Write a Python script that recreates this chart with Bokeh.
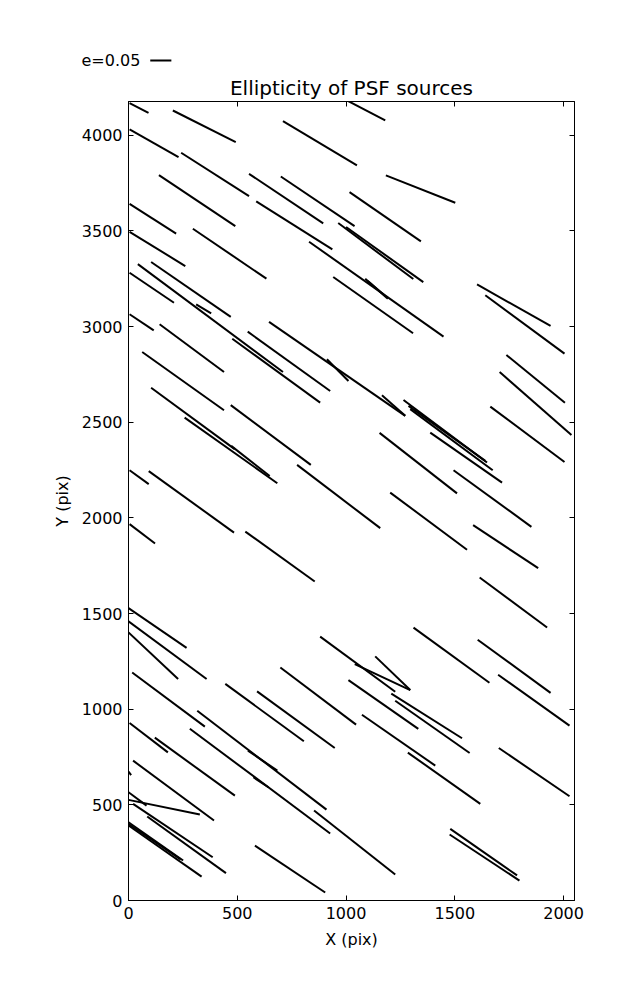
from bokeh.plotting import figure
from bokeh.models import Range1d, FixedTicker, LinearAxis
from bokeh.layouts import column
from bokeh.core.properties import value
from bokeh.embed import file_html
from bokeh.resources import INLINE

# Whisker segments (X, Y in pix)
x_start = [5, 204, 710, 1010, 5, 242, 1183, 140, 554, 700,
           1016, 587, 5, 296, 5, 964, 1000, 830, 1088, 1100,
           941, 1602, 1640, 1737, 1706, 1663, 5, 43, 104, 311,
           5, 143, 477, 548, 646, 912, 1165, 63, 1264, 1287,
           1295, 1387, 1154, 1494, 1203, 1584, 1614, 104, 258, 472,
           470, 5, 93, 775, 5, 537, 0, 0, 0, 17,
           445, 591, 698, 881, 1040, 1134, 1011, 1073, 1208, 1226,
           1284, 1310, 1605, 1699, 1702, 5, 316, 549, 121, 282,
           574, 0, 0, 0, 21, 21, 86, 0, 0, 0,
           581, 853, 1479, 1476]
y_start = [4168, 4129, 4073, 4178, 4030, 3908, 3790, 3791, 3798, 3784,
           3702, 3654, 3641, 3511, 3495, 3541, 3520, 3443, 3250, 3238,
           3259, 3220, 3163, 2851, 2762, 2581, 3281, 3326, 3337, 3116,
           3064, 3012, 2936, 2973, 3024, 2829, 2641, 2867, 2616, 2585,
           2568, 2445, 2444, 2249, 2132, 1962, 1688, 2680, 2524, 2376,
           2589, 2249, 2244, 2277, 1967, 1928, 1528, 1459, 1401, 1192,
           1132, 1093, 1218, 1379, 1235, 1276, 1152, 971, 1081, 1044,
           773, 1426, 1363, 1180, 797, 928, 992, 783, 851, 898,
           644, 674, 566, 526, 731, 505, 439, 409, 392, 400,
           287, 470, 374, 345]
x_end = [92, 493, 1050, 1180, 230, 554, 1502, 491, 895, 1039,
         1344, 937, 219, 634, 261, 1309, 1355, 1448, 1192, 1182,
         1308, 1940, 2004, 2006, 2036, 2004, 209, 710, 470, 380,
         116, 439, 881, 927, 1272, 1011, 1272, 439, 1648, 1640,
         1674, 1717, 1510, 1852, 1556, 1883, 1924, 488, 684, 649,
         838, 93, 485, 1157, 122, 856, 267, 359, 228, 351,
         806, 948, 1046, 1226, 1295, 1295, 1332, 1410, 1533, 1568,
         1617, 1659, 1940, 2027, 2027, 181, 910, 684, 489, 927,
         643, 12, 83, 328, 393, 387, 448, 251, 336, 240,
         904, 1226, 1786, 1797]
y_end = [4117, 3964, 3842, 4077, 3885, 3681, 3647, 3525, 3539, 3525,
         3445, 3403, 3485, 3250, 3316, 3248, 3232, 2947, 3145, 3158,
         2965, 3003, 2858, 2602, 2433, 2292, 3124, 2762, 3050, 3069,
         2980, 2762, 2602, 2663, 2533, 2715, 2533, 2562, 2289, 2298,
         2249, 2184, 2128, 1953, 1833, 1737, 1427, 2359, 2181, 2219,
         2277, 2176, 1923, 1946, 1866, 1667, 1320, 1158, 1158, 909,
         832, 797, 919, 1091, 1100, 1100, 897, 705, 848, 771,
         505, 1138, 1085, 914, 545, 774, 475, 679, 548, 350,
         592, 655, 496, 449, 418, 226, 143, 209, 125, 215,
         42, 136, 131, 104]

x_ticks = [0, 500, 1000, 1500, 2000]
y_ticks = [0, 500, 1000, 1500, 2000, 2500, 3000, 3500, 4000]
x_limits = (0, 2050)
y_limits = (0, 4176)
key_label = "e=0.05"
key_x = [-216]        # start of key text (X pix units)
key_line_x0 = [100]   # start of the e=0.05 whisker in the key
key_length = 97       # data length of the e=0.05 whisker

FONT = "DejaVu Sans"
LEFT, FRAME_W, RIGHT = 128, 446, 55
KEY_H = 71

# ---------------- key strip (above the plot) ----------------
per_px = (x_limits[1] - x_limits[0]) / FRAME_W
total_w = LEFT + FRAME_W + RIGHT
kx0 = x_limits[0] - LEFT * per_px
key = figure(frame_width=total_w, frame_height=KEY_H,
             min_border_left=0, min_border_right=0,
             min_border_top=0, min_border_bottom=0,
             x_range=Range1d(kx0, kx0 + total_w * per_px),
             y_range=Range1d(0, KEY_H),
             x_axis_type=None, y_axis_type=None,
             output_backend="svg", toolbar_location=None)
key.frame_align = False
key.grid.visible = False
key.outline_line_color = None
key.background_fill_color = "white"
key.border_fill_color = "white"
key_y = [KEY_H - 60]
key.text(x=key_x, y=key_y, text=[key_label], text_font=value(FONT),
         text_font_size="16px", text_baseline="middle", text_align="left",
         text_color="black")
key.segment(x0=key_line_x0, y0=key_y,
            x1=[key_line_x0[0] + key_length], y1=key_y,
            line_color="black", line_width=2)

# ---------------- main plot ----------------
p = figure(frame_width=FRAME_W, frame_height=799,
           min_border_left=LEFT, min_border_right=RIGHT,
           min_border_top=100 - KEY_H, min_border_bottom=88,
           x_range=Range1d(*x_limits), y_range=Range1d(*y_limits),
           output_backend="svg", toolbar_location=None,
           title="Ellipticity of PSF sources")
p.frame_align = False

p.segment(x0=x_start, y0=y_start, x1=x_end, y1=y_end,
          line_color="black", line_width=2)

p.grid.visible = False
p.background_fill_color = "white"
p.border_fill_color = "white"
p.outline_line_color = "black"
p.outline_line_alpha = 1.0
p.outline_line_width = 1

p.title.text_font = FONT
p.title.text_font_size = "20px"
p.title.text_font_style = "normal"
p.title.align = "center"
p.title.text_color = "black"
p.title.standoff = 4


def style_axis(ax, ticks):
    ax.ticker = FixedTicker(ticks=ticks)
    ax.minor_tick_line_color = None
    ax.major_tick_in = 5
    ax.major_tick_out = 0
    ax.major_tick_line_color = "black"
    ax.axis_line_color = "black"
    ax.major_label_text_font = FONT
    ax.major_label_text_font_size = "16px"
    ax.major_label_text_color = "black"
    ax.axis_label_text_font = FONT
    ax.axis_label_text_font_size = "16px"
    ax.axis_label_text_font_style = "normal"
    ax.axis_label_text_color = "black"


def tick_only_axis(ticks):
    # ticks drawn as minor ticks: no labels at all
    ax = LinearAxis(ticker=FixedTicker(ticks=[], minor_ticks=ticks))
    ax.major_tick_line_color = None
    ax.minor_tick_in = 5
    ax.minor_tick_out = 0
    ax.minor_tick_line_color = "black"
    ax.axis_line_color = "black"
    ax.major_label_standoff = 0
    return ax


style_axis(p.xaxis[0], x_ticks)
style_axis(p.yaxis[0], y_ticks)
p.xaxis[0].axis_label = "X (pix)"
p.yaxis[0].axis_label = "Y (pix)"
p.xaxis[0].major_label_standoff = 6
p.yaxis[0].major_label_standoff = 6
p.xaxis[0].axis_label_standoff = 8
p.yaxis[0].axis_label_standoff = 7

p.add_layout(tick_only_axis(x_ticks), "above")
p.add_layout(tick_only_axis(y_ticks), "right")

layout = column(key, p, spacing=0)
open("out.html", "w").write(file_html(layout, INLINE))
